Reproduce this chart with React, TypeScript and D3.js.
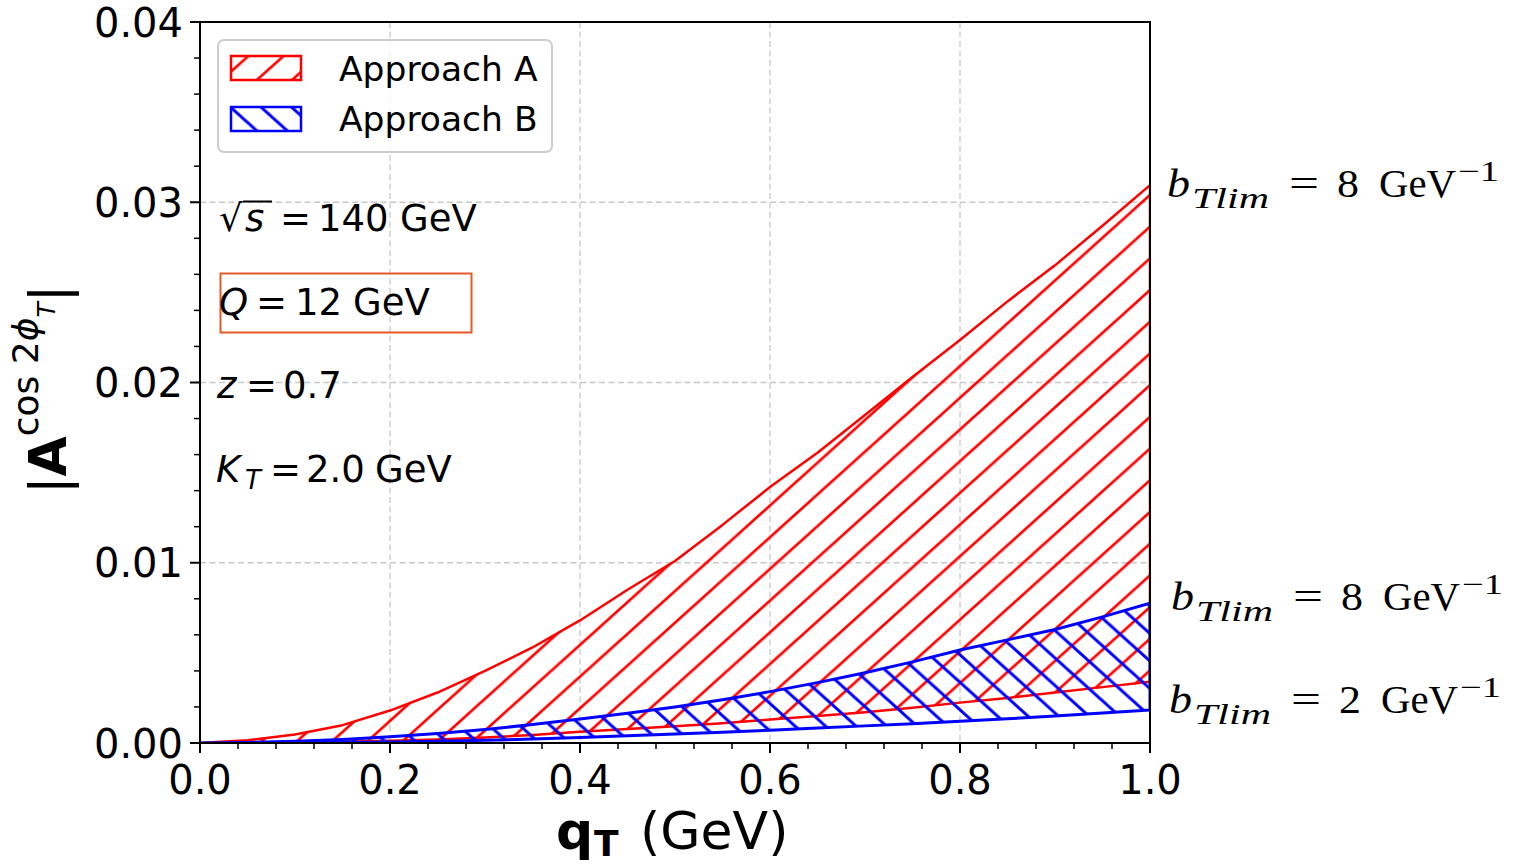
import React from 'react';
import * as d3 from 'd3';

// transverse momentum grid (GeV)
const qT = [0, 0.05, 0.1, 0.15, 0.2, 0.25, 0.3, 0.35, 0.4, 0.45, 0.5, 0.55, 0.6, 0.65, 0.7, 0.75, 0.8, 0.85, 0.9, 0.95, 1.0];

// |A^{cos 2phi_T}| bands, upper edge bTlim = 8 GeV^-1, lower edge bTlim = 2 GeV^-1
const approachA_b8 = [0, 0.00015, 0.00047, 0.00099, 0.0018, 0.0028, 0.004, 0.0053, 0.0068, 0.0085, 0.0101, 0.0121, 0.0142, 0.0161, 0.0182, 0.0203, 0.02236, 0.0245, 0.0265, 0.0287, 0.03095];
const approachA_b2 = [0, 0.000005, 0.00003, 0.00007, 0.00012, 0.0002, 0.0003, 0.00045, 0.00062, 0.00077, 0.00093, 0.0011, 0.0013, 0.0015, 0.0017, 0.00195, 0.00224, 0.0025, 0.0028, 0.0031, 0.0034];
const approachB_b8 = [0, 0.00003, 0.0001, 0.0002, 0.00035, 0.00053, 0.00075, 0.00102, 0.00133, 0.00165, 0.002, 0.0024, 0.00285, 0.00335, 0.0039, 0.0045, 0.00516, 0.00572, 0.0063, 0.007, 0.00775];
const approachB_b2 = [0, 0.000003, 0.00001, 0.00003, 0.00006, 0.0001, 0.00015, 0.00022, 0.00031, 0.0004, 0.0005, 0.0006, 0.00071, 0.00083, 0.00095, 0.00107, 0.0012, 0.00134, 0.0015, 0.00166, 0.00183];

const xTicks = [0, 0.2, 0.4, 0.6, 0.8, 1.0];
const yTicks = [0, 0.01, 0.02, 0.03, 0.04];
const legendLabels = ['Approach A', 'Approach B'];

const W = 1519;
const H = 865;
const m = { left: 200, right: 1150, top: 22, bottom: 743 };
const SANS = 'DejaVu Sans, sans-serif';
const SERIF = 'Liberation Serif, DejaVu Serif, serif';

type Part = { t: string; x: number; w: number; dy?: number; size?: number; italic?: boolean };

export default function App() {
  const x = d3.scaleLinear().domain([0, 1]).range([m.left, m.right]);
  const y = d3.scaleLinear().domain([0, 0.04]).range([m.bottom, m.top]);

  const band = (lo: number[], hi: number[]) =>
    d3.area<number>()
      .x((_, i) => x(qT[i]))
      .y0((_, i) => y(lo[i]))
      .y1((_, i) => y(hi[i]))(qT) as string;

  const xMinor = d3.range(0, 1.0001, 0.04).filter(v => !xTicks.some(t => Math.abs(t - v) < 1e-6));
  const yMinor = d3.range(0, 0.04001, 0.002).filter(v => !yTicks.some(t => Math.abs(t - v) < 1e-7));

  // hatch tiles
  const aw = 35.2, ah = 31.7;
  const bw = 30.5, bh = 27.5;

  const bTlimLabel = (x0: number, base: number, val: string) => {
    const parts: Part[] = [
      { t: 'b', x: 0, w: 23, italic: true },
      { t: 'Tlim', x: 25, w: 77, dy: 11, size: 29, italic: true },
      { t: '=', x: 122, w: 30 },
      { t: val, x: 170, w: 22 },
      { t: 'GeV', x: 212, w: 77 },
      { t: '−1', x: 291, w: 41, dy: -16, size: 29 },
    ];
    return (
      <g>
        {parts.map(p => (
          <text key={p.t} x={x0 + p.x} y={base + (p.dy || 0)} fontFamily={SERIF}
            fontSize={p.size || 40} fontStyle={p.italic ? 'italic' : 'normal'}
            textLength={p.w} lengthAdjust="spacingAndGlyphs" fill="#000">{p.t}</text>
        ))}
      </g>
    );
  };

  return (
    <svg width={W} height={H} style={{ position: 'absolute', left: 0, top: 0, background: '#fff' }}>
      <defs>
        <pattern id="hatchA" patternUnits="userSpaceOnUse" x={1150} y={195} width={aw} height={ah}>
          <path
            d={`M0,${ah} L${aw},0 M${-aw / 4},${ah / 4} L${aw / 4},${-ah / 4} M${(3 * aw) / 4},${(5 * ah) / 4} L${(5 * aw) / 4},${(3 * ah) / 4}`}
            stroke="#ff0000" strokeWidth={2.7} />
        </pattern>
        <pattern id="hatchB" patternUnits="userSpaceOnUse" x={856.7} y={726.7} width={bw} height={bh}>
          <path
            d={`M0,0 L${bw},${bh} M${-bw / 4},${(3 * bh) / 4} L${bw / 4},${(5 * bh) / 4} M${(3 * bw) / 4},${-bh / 4} L${(5 * bw) / 4},${bh / 4}`}
            stroke="#0000ff" strokeWidth={3} />
        </pattern>
        <clipPath id="plotClip">
          <rect x={m.left} y={m.top} width={m.right - m.left} height={m.bottom - m.top} />
        </clipPath>
      </defs>

      {/* grid */}
      <g stroke="#c8c8c8" strokeWidth={1.3} strokeDasharray="6,3.5">
        {xTicks.slice(1, -1).map(t => (
          <line key={'gx' + t} x1={x(t)} x2={x(t)} y1={m.top} y2={m.bottom} />
        ))}
        {yTicks.slice(1, -1).map(t => (
          <line key={'gy' + t} x1={m.left} x2={m.right} y1={y(t)} y2={y(t)} />
        ))}
      </g>

      {/* bands */}
      <g clipPath="url(#plotClip)">
        <path d={band(approachA_b2, approachA_b8)} fill="url(#hatchA)" stroke="#ff0000" strokeWidth={2.5} strokeLinejoin="round" />
        <path d={band(approachB_b2, approachB_b8)} fill="url(#hatchB)" stroke="#0000ff" strokeWidth={3} strokeLinejoin="round" />
      </g>

      {/* annotations */}
      <g fontFamily={SANS} fontSize={37} fill="#000">
        <text y={231}>
          <tspan x={219}>√</tspan>
          <tspan x={245} fontStyle="italic">s</tspan>
          <tspan x={280}>=</tspan>
          <tspan x={318}>140</tspan>
          <tspan x={400}>GeV</tspan>
        </text>
        <line x1={243} x2={272} y1={201.5} y2={201.5} stroke="#000" strokeWidth={2} />
        <rect x={220.5} y={273.5} width={251} height={59} fill="none" stroke="#e35a2a" strokeWidth={2} />
        <text y={315}>
          <tspan x={219} fontStyle="italic">Q</tspan>
          <tspan x={256}>=</tspan>
          <tspan x={295}>12</tspan>
          <tspan x={353}>GeV</tspan>
        </text>
        <text y={398}>
          <tspan x={217} fontStyle="italic">z</tspan>
          <tspan x={246}>=</tspan>
          <tspan x={283}>0.7</tspan>
        </text>
        <text x={216} y={482} fontStyle="italic">K</text>
        <text x={245} y={489} fontStyle="italic" fontSize={26}>T</text>
        <text y={482}>
          <tspan x={270}>=</tspan>
          <tspan x={306}>2.0</tspan>
          <tspan x={375}>GeV</tspan>
        </text>
      </g>

      {/* legend */}
      <g>
        <rect x={218} y={40} width={334} height={112} rx={6} fill="#fff" fillOpacity={0.8} stroke="#cccccc" strokeWidth={2} />
        {legendLabels.map((lab, i) => (
          <g key={lab}>
            <rect x={231} y={56 + i * 51} width={70} height={24}
              fill={i === 0 ? 'url(#hatchA)' : 'url(#hatchB)'}
              stroke={i === 0 ? '#ff0000' : '#0000ff'} strokeWidth={2.5} />
            <text x={339} y={81 + i * 50} fontFamily={SANS} fontSize={34.5} fill="#000">{lab}</text>
          </g>
        ))}
      </g>

      {/* spines */}
      <rect x={m.left} y={m.top} width={m.right - m.left} height={m.bottom - m.top} fill="none" stroke="#000" strokeWidth={2} />

      {/* ticks */}
      <g stroke="#000">
        {xTicks.map(t => (
          <line key={'xt' + t} x1={x(t)} x2={x(t)} y1={m.bottom} y2={m.bottom + 10} strokeWidth={2} />
        ))}
        {xMinor.map(t => (
          <line key={'xm' + t} x1={x(t)} x2={x(t)} y1={m.bottom} y2={m.bottom + 6} strokeWidth={1.5} />
        ))}
        {yTicks.map(t => (
          <line key={'yt' + t} x1={m.left - 10} x2={m.left} y1={y(t)} y2={y(t)} strokeWidth={2} />
        ))}
        {yMinor.map(t => (
          <line key={'ym' + t} x1={m.left - 6} x2={m.left} y1={y(t)} y2={y(t)} strokeWidth={1.5} />
        ))}
      </g>
      <g fontFamily={SANS} fontSize={40} fill="#000">
        {xTicks.map(t => (
          <text key={'xl' + t} x={x(t)} y={794} textAnchor="middle">{d3.format('.1f')(t)}</text>
        ))}
        {yTicks.map(t => (
          <text key={'yl' + t} x={183} y={y(t) + 14.5} textAnchor="end">{d3.format('.2f')(t)}</text>
        ))}
      </g>

      {/* axis titles */}
      <text fontFamily={SANS} fontSize={52} fill="#000" y={849}>
        <tspan x={556} fontWeight="bold">q</tspan>
        <tspan x={594} y={856} fontWeight="bold" fontSize={36}>T</tspan>
        <tspan x={640} y={849}>(GeV)</tspan>
      </text>
      <text transform="translate(66,494) rotate(-90)" fontFamily={SANS} fontSize={52} fill="#000">
        <tspan>|</tspan>
        <tspan fontWeight="bold">A</tspan>
        <tspan fontSize={36} dy={-28}>cos 2</tspan>
        <tspan fontSize={36} fontStyle="italic">ϕ</tspan>
        <tspan fontSize={25} fontStyle="italic" dy={17}>T</tspan>
        <tspan dy={11}>|</tspan>
      </text>

      {/* bTlim labels */}
      {bTlimLabel(1167, 197, '8')}
      {bTlimLabel(1171, 610, '8')}
      {bTlimLabel(1169, 713, '2')}
    </svg>
  );
}
